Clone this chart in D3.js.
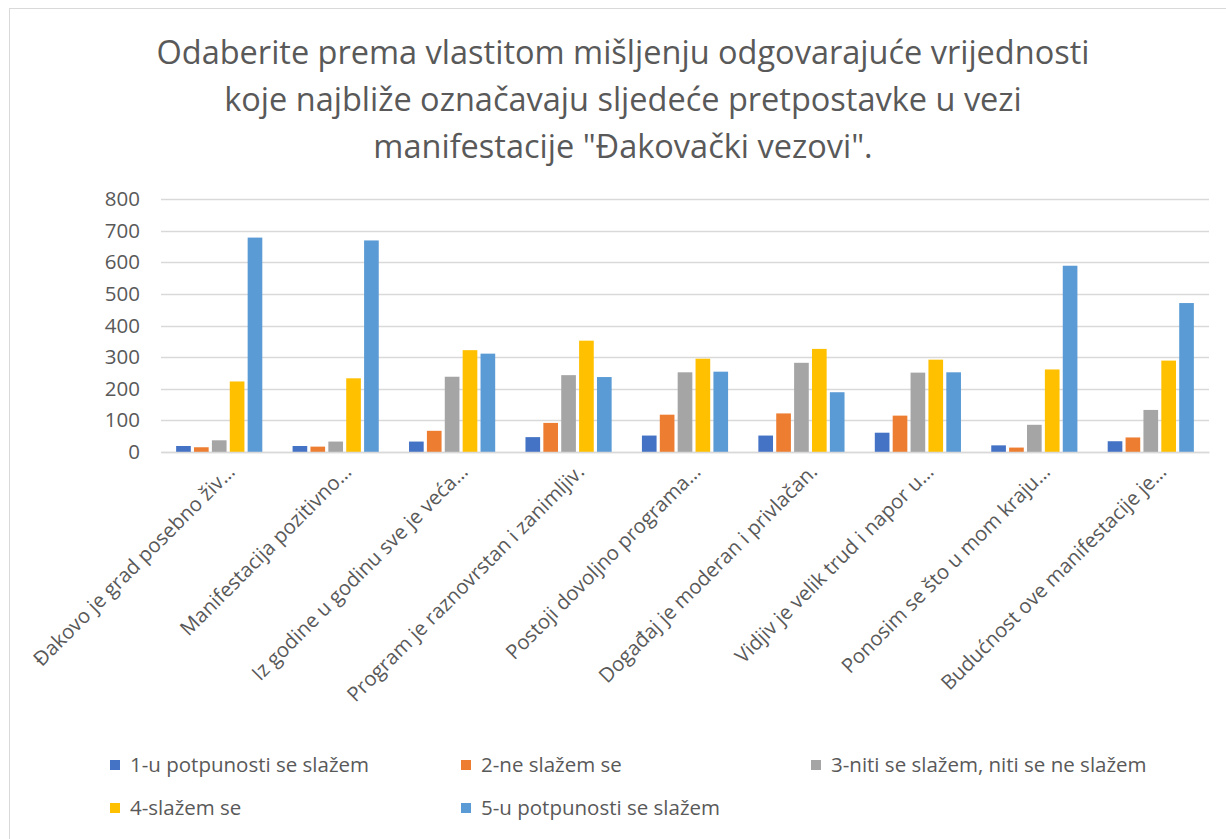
<!DOCTYPE html>
<html>
<head>
<meta charset="utf-8">
<script src="https://cdn.jsdelivr.net/npm/d3@7"></script>
<style>
    html, body { margin: 0; padding: 0; background: #fff; }
    svg { display: block; font-family: "Open Sans", sans-serif; }
</style>
</head>
<body>
<script>
const categories = [
    'Đakovo je grad posebno živ…',
    'Manifestacija pozitivno…',
    'Iz godine u godinu sve je veća…',
    'Program je raznovrstan i zanimljiv.',
    'Postoji dovoljno programa…',
    'Događaj je moderan i privlačan.',
    'Vidjiv je velik trud i napor u…',
    'Ponosim se što u mom kraju…',
    'Budućnost ove manifestacije je…'
]

const seriesNames = [
    '1-u potpunosti se slažem',
    '2-ne slažem se',
    '3-niti se slažem, niti se ne slažem',
    '4-slažem se',
    '5-u potpunosti se slažem'
]

const s1 = [19, 19, 33, 47, 52, 52, 61, 21, 34]
const s2 = [15, 17, 67, 92, 118, 122, 115, 14, 46]
const s3 = [37, 33, 238, 243, 252, 282, 251, 86, 133]
const s4 = [223, 233, 322, 352, 295, 326, 292, 261, 289]
const s5 = [678, 669, 311, 237, 254, 189, 252, 589, 471]

const yTicks = [0, 100, 200, 300, 400, 500, 600, 700, 800]

const titleLines = [
    'Odaberite prema vlastitom mišljenju odgovarajuće vrijednosti',
    'koje najbliže označavaju sljedeće pretpostavke u vezi',
    'manifestacije "Đakovački vezovi".'
]

const colors = ['#4472C4', '#ED7D31', '#A5A5A5', '#FFC000', '#5B9BD5']
const series = [s1, s2, s3, s4, s5]

const width = 1226
const height = 839
const plot = { left: 161, right: 1209, top: 199, bottom: 452 }
const textColor = '#595959'

const svg = d3.select('body')
    .append('svg')
    .attr('width', width)
    .attr('height', height)

// chart frame (right and bottom edges fall outside the picture)
svg.append('rect')
    .attr('x', 9.5)
    .attr('y', 8.5)
    .attr('width', width + 10)
    .attr('height', height + 10)
    .attr('fill', '#fff')
    .attr('stroke', '#d9d9d9')

svg.append('g')
    .selectAll('text')
    .data(titleLines)
    .join('text')
    .attr('x', 623)
    .attr('y', (d, i) => 64 + i * 47)
    .attr('text-anchor', 'middle')
    .attr('fill', textColor)
    .attr('font-size', 32.5)
    .text(d => d)

const x0 = d3.scaleBand()
    .domain(categories)
    .range([plot.left, plot.right])
    .paddingInner(0.26)
    .paddingOuter(0.13)

const x1 = d3.scaleBand()
    .domain(d3.range(series.length))
    .range([0, x0.bandwidth()])
    .paddingInner(0.18)

const y = d3.scaleLinear()
    .domain([0, 800])
    .range([plot.bottom, plot.top])

// gridlines
svg.append('g')
    .selectAll('line')
    .data(yTicks)
    .join('line')
    .attr('x1', plot.left)
    .attr('x2', plot.right)
    .attr('y1', d => Math.round(y(d)) + 0.5)
    .attr('y2', d => Math.round(y(d)) + 0.5)
    .attr('stroke', '#d9d9d9')
    .attr('stroke-width', 1.3)

// y axis labels
const yAxis = svg.append('g')
    .attr('transform', `translate(${plot.left - 21},0)`)
    .call(d3.axisLeft(y).tickValues(yTicks).tickSize(0).tickPadding(0))
yAxis.select('.domain').remove()
yAxis.selectAll('text')
    .attr('font-size', 20.5)
    .attr('font-family', '"Open Sans", sans-serif')
    .attr('fill', textColor)

// bars
const groups = svg.append('g')
    .selectAll('g')
    .data(categories)
    .join('g')
    .attr('transform', d => `translate(${x0(d)},0)`)

groups.selectAll('rect')
    .data((d, ci) => series.map((s, si) => ({ si, v: s[ci] })))
    .join('rect')
    .attr('x', d => x1(d.si))
    .attr('width', x1.bandwidth())
    .attr('y', d => y(d.v))
    .attr('height', d => y(0) - y(d.v))
    .attr('fill', d => colors[d.si])

// category axis
const xAxis = svg.append('g')
    .attr('transform', `translate(0,${plot.bottom})`)
    .call(d3.axisBottom(x0).tickSize(0).tickPadding(0))
xAxis.select('.domain')
    .attr('stroke', '#d9d9d9')
    .attr('stroke-width', 1.3)
xAxis.selectAll('text')
    .attr('font-size', 20.3)
    .attr('font-family', '"Open Sans", sans-serif')
    .attr('fill', textColor)
    .attr('text-anchor', 'end')
    .attr('dy', null)
    .attr('y', null)
    .attr('transform', 'translate(17,21) rotate(-45)')

// legend
const legendPos = [[110, 765], [461, 765], [811, 765], [110, 808], [461, 808]]

const legend = svg.append('g')
    .selectAll('g')
    .data(seriesNames)
    .join('g')
    .attr('transform', (d, i) => `translate(${legendPos[i][0]},${legendPos[i][1]})`)

legend.append('rect')
    .attr('x', 0)
    .attr('y', -5)
    .attr('width', 10)
    .attr('height', 10)
    .attr('fill', (d, i) => colors[i])

legend.append('text')
    .attr('x', 20)
    .attr('y', 0)
    .attr('dy', '0.35em')
    .attr('font-size', 20.5)
    .attr('fill', textColor)
    .text(d => d)
</script>
</body>
</html>
